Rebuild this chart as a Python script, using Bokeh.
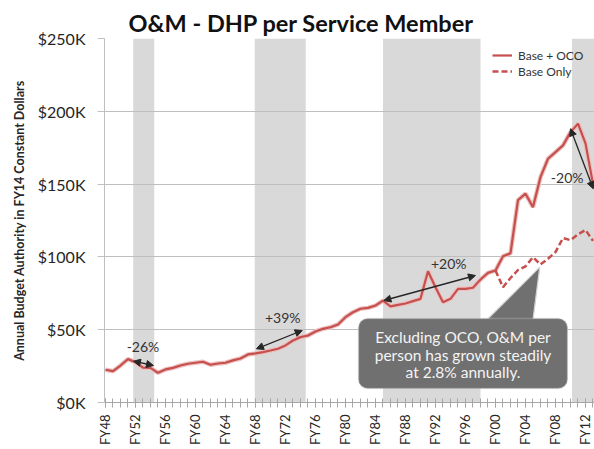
from bokeh.plotting import figure
from bokeh.models import (ColumnDataSource, FixedTicker, Legend, LegendItem, Arrow,
                          NormalHead, BoxAnnotation, Range1d)
from bokeh.core.properties import value
from bokeh.embed import file_html
from bokeh.resources import INLINE

# ---------------- data ----------------
years = list(range(1948, 2014))
base_oco = [22.5, 21.5, 25.4, 29.8, 27.7, 24.0, 23.8, 20.4, 22.7, 23.8,
            25.4, 26.6, 27.3, 28.0, 25.9, 26.8, 27.3, 28.9, 30.2, 33.0,
            33.7, 34.6, 35.7, 36.9, 39.2, 42.6, 44.9, 46.0, 48.8, 50.6,
            51.7, 53.6, 58.6, 62.0, 64.4, 65.0, 66.6, 70.0, 66.0, 67.0,
            68.0, 69.6, 71.2, 90.2, 79.2, 68.9, 71.2, 78.1, 78.1, 78.8,
            84.5, 89.0, 90.7, 100.5, 102.5, 139.0, 143.4, 134.2, 154.8, 167.4,
            172.0, 176.6, 185.7, 191.5, 178.0, 150.0]
base_only_years = list(range(2000, 2014))
base_only = [90.7, 79.2, 85.5, 91.0, 93.5, 99.8, 94.8, 98.7, 103.3, 113.0,
             111.5, 115.5, 118.5, 111.0]
band_start = [1951.7, 1967.9, 1985.0, 2010.2]
band_end = [1954.5, 1974.7, 1998.0, 2014.0]
y_ticks = [0, 50000, 100000, 150000, 200000, 250000]
y_tick_labels = ["$0K", "$50K", "$100K", "$150K", "$200K", "$250K"]
x_label_years = list(range(1948, 2014, 4))
x_tick_labels = ["FY%02d" % (y % 100) for y in x_label_years]

FONT = "Lato"
RED = "#c6504e"
DARK = "#262626"

p = figure(width=594, height=449, output_backend="svg", toolbar_location=None,
           x_range=Range1d(1947.87, 2013.2), y_range=Range1d(0, 250000),
           min_border_left=104, min_border_right=0, min_border_top=38,
           min_border_bottom=47, background_fill_color="white",
           border_fill_color="white", outline_line_color=None)

# title
p.title.text = "O&M - DHP per Service Member"
p.title.text_font = FONT
p.title.text_font_size = "23.5px"
p.title.text_font_style = "bold"
p.title.text_color = "#111111"
p.title.align = "left"
p.title.offset = 24
p.title.standoff = 4

# bands
bsrc = ColumnDataSource(dict(left=band_start, right=band_end,
                             bottom=[0] * len(band_start), top=[250000] * len(band_start)))
p.quad(left="left", right="right", bottom="bottom", top="top", source=bsrc,
       fill_color="#d9d9d9", line_color=None, level="underlay")

# grid
p.xgrid.grid_line_color = None
p.ygrid.grid_line_color = "#bfbfbf"
p.ygrid.grid_line_width = 1
p.ygrid.ticker = FixedTicker(ticks=y_ticks)

# y axis
p.yaxis.ticker = FixedTicker(ticks=y_ticks)
p.yaxis.major_label_overrides = {t: l for t, l in zip(y_ticks, y_tick_labels)}
p.yaxis.major_label_text_font = FONT
p.yaxis.major_label_text_font_size = "16px"
p.yaxis.major_label_text_color = DARK
p.yaxis.axis_line_color = "#bfbfbf"
p.yaxis.major_tick_line_color = "#bfbfbf"
p.yaxis.major_tick_out = 7
p.yaxis.major_tick_in = 0
p.yaxis.minor_tick_line_color = None
p.yaxis.major_label_standoff = 12
p.yaxis.axis_label = "Annual Budget Authority in FY14 Constant Dollars"
p.yaxis.axis_label_text_font = FONT
p.yaxis.axis_label_text_font_size = "12.5px"
p.yaxis.axis_label_text_font_style = "bold"
p.yaxis.axis_label_text_color = DARK
p.yaxis.axis_label_standoff = 8

# x axis
p.xaxis.ticker = FixedTicker(ticks=x_label_years, minor_ticks=years)
p.xaxis.major_label_overrides = {t: l for t, l in zip(x_label_years, x_tick_labels)}
p.xaxis.major_label_orientation = 1.5707963
p.xaxis.major_label_text_font = FONT
p.xaxis.major_label_text_font_size = "13px"
p.xaxis.major_label_text_color = DARK
p.xaxis.axis_line_color = "#a6a6a6"
p.xaxis.major_tick_line_color = "#a6a6a6"
p.xaxis.minor_tick_line_color = "#a6a6a6"
p.xaxis.major_tick_in = 4
p.xaxis.major_tick_out = 5
p.xaxis.minor_tick_in = 4
p.xaxis.minor_tick_out = 5
p.xaxis.major_label_standoff = 7

# lines
src1 = ColumnDataSource(dict(x=years, y=[v * 1000 for v in base_oco]))
src2 = ColumnDataSource(dict(x=base_only_years, y=[v * 1000 for v in base_only]))
p.line("x", "y", source=src1, line_color="#ecc0bf", line_width=4.5)
r1 = p.line("x", "y", source=src1, line_color=RED, line_width=2.2)
r2 = p.line("x", "y", source=src2, line_color=RED, line_width=2.5, line_dash="6 3")

legend = Legend(items=[LegendItem(label="Base + OCO", renderers=[r1]),
                       LegendItem(label="Base Only", renderers=[r2])],
                location=(388, 323), padding=0, spacing=0, margin=0,
                glyph_width=20, glyph_height=16, label_height=16,
                label_standoff=6, border_line_color=None,
                background_fill_alpha=0,
                label_text_font=FONT, label_text_font_size="12px",
                label_text_color="#333333")
p.add_layout(legend)

# arrows
arrows = [((1951.73, 28365), (1954.4, 25412)),
          ((1968.13, 36882), (1974.23, 49451)),
          ((1985.11, 70055), (1997.33, 87225)),
          ((2010.0, 187981), (2013.03, 146772))]
for (xs, ys), (xe, ye) in arrows:
    p.add_layout(Arrow(start=NormalHead(size=7, fill_color=DARK, line_color=DARK),
                       end=NormalHead(size=7, fill_color=DARK, line_color=DARK),
                       x_start=xs, y_start=ys, x_end=xe, y_end=ye,
                       line_color=DARK, line_width=1.3))

p.text(x=[1953.0, 1971.64, 1993.77, 2009.56], y=[38462, 58173, 95261, 154327],
       text=["-26%", "+39%", "+20%", "-20%"], text_font=value(FONT),
       text_font_size="14px", text_color="#333333", text_align="center",
       text_baseline="middle")

# callout
p.patch([1998.9, 2005.0, 2005.9], [57000, 57000, 92926], fill_color="#707070",
        line_color="#d0d0d0", line_width=1.2)
p.add_layout(BoxAnnotation(left=1981.73, right=2009.6, top=57692, bottom=9615,
                           fill_color="#707070", fill_alpha=1, line_color="#d0d0d0",
                           line_width=1.5, border_radius=9))
p.text(x=[1995.67, 1995.67, 1995.67], y=[44849, 32967, 20810],
       text=["Excluding OCO, O&M per", "person has grown steadily", "at 2.8% annually."],
       text_font=value(FONT), text_font_size="15.5px", text_color="#f4f4f4",
       text_align="center", text_baseline="middle", level="overlay")

open("out.html", "w").write(file_html(p, INLINE))
